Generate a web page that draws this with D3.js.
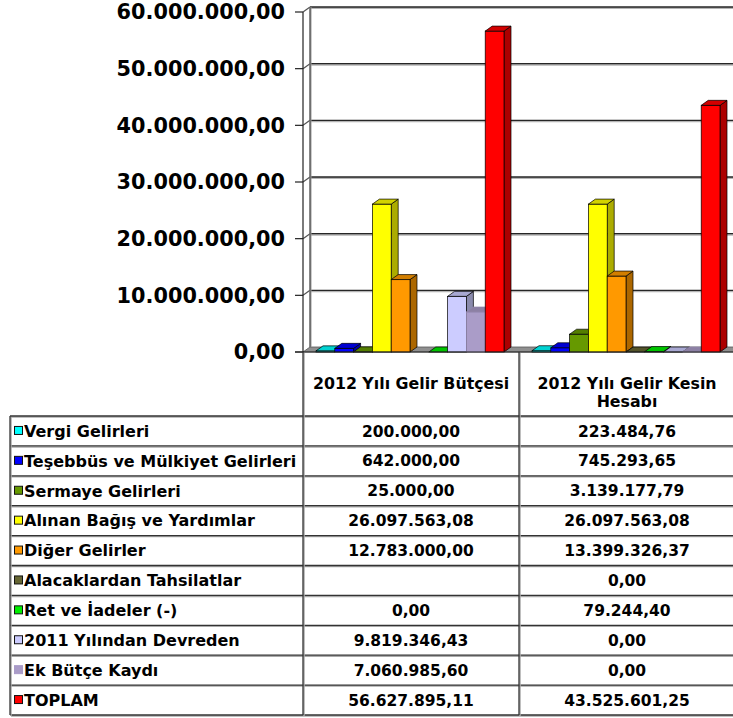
<!DOCTYPE html>
<html>
<head>
<meta charset="utf-8">
<script src="https://cdn.jsdelivr.net/npm/d3@7"></script>
<style>
body{margin:0;background:#fff;}
svg{display:block;}
text{font-family:"DejaVu Sans",Verdana,sans-serif;font-weight:bold;fill:#000;}
</style>
</head>
<body>
<svg id="chart" width="733" height="718"></svg>
<script>
// chart data
var categories = ["2012 Yılı Gelir Bütçesi", "2012 Yılı Gelir Kesin Hesabı"];

var seriesNames = [
    "Vergi Gelirleri",
    "Teşebbüs ve Mülkiyet Gelirleri",
    "Sermaye Gelirleri",
    "Alınan Bağış ve Yardımlar",
    "Diğer Gelirler",
    "Alacaklardan Tahsilatlar",
    "Ret ve İadeler (-)",
    "2011 Yılından Devreden",
    "Ek Bütçe Kaydı",
    "TOPLAM"
];

var seriesColors = [
    "#00ffff", "#0000ff", "#669900", "#ffff00", "#ff9900",
    "#666633", "#00ee00", "#ccccff", "#aa9cc8", "#ff0000"
];

var budgetValues = [200000, 642000, 25000, 26097563.08, 12783000, null, 0, 9819346.43, 7060985.60, 56627895.11];
var finalValues = [223484.76, 745293.65, 3139177.79, 26097563.08, 13399326.37, 0, 79244.40, 0, 0, 43525601.25];

var yTicks = [0, 10000000, 20000000, 30000000, 40000000, 50000000, 60000000];

var valuesByCategory = [budgetValues, finalValues];

// turkish number format 1.234,56
var trLocale = d3.formatLocale({decimal: ",", thousands: ".", grouping: [3], currency: ["", ""]});
var fmt = trLocale.format(",.2f");

var svg = d3.select("#chart");
var W = 733;

// 3d depth offset
var dx = 7, dy = -5;
var plotLeft = 303, zeroY = 352, topY = 12;

var x0 = d3.scaleBand().domain(categories).range([plotLeft, plotLeft + 432]);
var x1 = d3.scaleBand().domain(seriesNames).range([13, 201]);
var y = d3.scaleLinear().domain([0, 60000000]).range([zeroY, topY]);

svg.append("rect").attr("width", W).attr("height", 718).attr("fill", "#fff");

var chart = svg.append("g");

// floor
chart.append("polygon")
    .attr("points", [[plotLeft, zeroY], [plotLeft + dx, zeroY + dy], [W + 10, zeroY + dy], [W + 10, zeroY]].join(" "))
    .attr("fill", "#8f8f8f")
    .attr("stroke", "#555")
    .attr("stroke-width", 0.8);

// back wall + side wall gridlines
var grid = chart.append("g");
yTicks.forEach(function(t){
    if(t == 0) return;
    var yy = y(t);
    grid.append("line")
        .attr("x1", plotLeft + dx).attr("x2", W + 10)
        .attr("y1", yy + dy + 1).attr("y2", yy + dy + 1)
        .attr("stroke", "#b5b5b5").attr("stroke-width", 2);
    grid.append("line")
        .attr("x1", plotLeft + dx).attr("x2", W + 10)
        .attr("y1", yy + dy).attr("y2", yy + dy)
        .attr("stroke", "#262626").attr("stroke-width", 1.3);
    grid.append("line")
        .attr("x1", plotLeft).attr("x2", plotLeft + dx)
        .attr("y1", yy).attr("y2", yy + dy)
        .attr("stroke", "#555").attr("stroke-width", 1.2);
});
// back wall left edge
grid.append("line")
    .attr("x1", plotLeft + dx + 0.5).attr("x2", plotLeft + dx + 0.5)
    .attr("y1", y(60000000) + dy).attr("y2", zeroY + dy)
    .attr("stroke", "#9a9a9a").attr("stroke-width", 2);
grid.append("line")
    .attr("x1", plotLeft + dx).attr("x2", plotLeft + dx)
    .attr("y1", y(60000000) + dy).attr("y2", zeroY + dy)
    .attr("stroke", "#444").attr("stroke-width", 1);

// bars, drawn left to right so each one hides the side of the previous
categories.forEach(function(cat, ci){
    var vals = valuesByCategory[ci];
    var g = chart.append("g");
    seriesNames.forEach(function(name, si){
        var v = vals[si];
        if(v === null) return;
        var c = seriesColors[si];
        var xl = x0(cat) + x1(name), w = x1.bandwidth(), yt = y(v);
        var stroke = si == 8 ? d3.color(c).darker(0.4) : "#000";
        if(v > 0){
            g.append("polygon")
                .attr("points", [[xl + w, yt], [xl + w + dx, yt + dy], [xl + w + dx, zeroY + dy], [xl + w, zeroY]].join(" "))
                .attr("fill", d3.color(c).darker(1.1))
                .attr("stroke", stroke).attr("stroke-width", 0.7);
            g.append("rect")
                .attr("x", xl).attr("y", yt)
                .attr("width", w).attr("height", zeroY - yt)
                .attr("fill", c)
                .attr("stroke", stroke).attr("stroke-width", 0.7);
        }
        g.append("polygon")
            .attr("points", [[xl, yt], [xl + dx, yt + dy], [xl + w + dx, yt + dy], [xl + w, yt]].join(" "))
            .attr("fill", d3.color(c).darker(0.55))
            .attr("stroke", stroke).attr("stroke-width", 0.7);
    });
});

// value axis
chart.append("line")
    .attr("x1", plotLeft).attr("x2", plotLeft)
    .attr("y1", y(60000000)).attr("y2", zeroY)
    .attr("stroke", "#222").attr("stroke-width", 1.2);
chart.append("line")
    .attr("x1", plotLeft - 8).attr("x2", W + 10)
    .attr("y1", zeroY).attr("y2", zeroY)
    .attr("stroke", "#222").attr("stroke-width", 1.2);
var yAxis = chart.append("g");
yTicks.forEach(function(t){
    yAxis.append("line")
        .attr("x1", plotLeft - 8).attr("x2", plotLeft)
        .attr("y1", y(t)).attr("y2", y(t))
        .attr("stroke", "#222").attr("stroke-width", 1.2);
    yAxis.append("text")
        .attr("x", 285).attr("y", y(t))
        .attr("dy", "0.36em")
        .attr("text-anchor", "end")
        .attr("font-size", 20.8)
        .text(fmt(t));
});

// data table
var table = svg.append("g");
var tableTop = 416, rowH = 29.9, tableLeft = 10;
var nRows = seriesNames.length;
var tableBottom = tableTop + nRows * rowH;

function tline(x1p, y1p, x2p, y2p){
    table.append("line")
        .attr("x1", x1p + 1).attr("x2", x2p + 1).attr("y1", y1p + 1).attr("y2", y2p + 1)
        .attr("stroke", "#aaa").attr("stroke-width", 1.5);
    table.append("line")
        .attr("x1", x1p).attr("x2", x2p).attr("y1", y1p).attr("y2", y2p)
        .attr("stroke", "#333").attr("stroke-width", 1.3);
}

for(var r = 0; r <= nRows; r++){
    tline(tableLeft, tableTop + r * rowH, W + 10, tableTop + r * rowH);
}
tline(tableLeft, tableTop, tableLeft, tableBottom);
categories.forEach(function(cat){
    tline(x0(cat), zeroY, x0(cat), tableBottom);
});

// category headers, wrapped to the column
categories.forEach(function(cat){
    var cx = x0(cat) + x0.bandwidth() / 2;
    var words = cat.split(" ");
    var lines = [], line = [];
    var probe = table.append("text").attr("font-size", 15.8);
    words.forEach(function(wd){
        line.push(wd);
        probe.text(line.join(" "));
        if(probe.node().getComputedTextLength() > 208 && line.length > 1){
            line.pop();
            lines.push(line.join(" "));
            line = [wd];
        }
    });
    lines.push(line.join(" "));
    probe.remove();
    lines.forEach(function(l, li){
        table.append("text")
            .attr("x", cx).attr("y", 383 + li * 18)
            .attr("dy", "0.36em")
            .attr("text-anchor", "middle")
            .attr("font-size", 15.8)
            .text(l);
    });
});

// rows
seriesNames.forEach(function(name, si){
    var cy = tableTop + si * rowH + rowH / 2;
    table.append("rect")
        .attr("x", 14.5).attr("y", cy - 4.5)
        .attr("width", 8).attr("height", 8)
        .attr("fill", seriesColors[si])
        .attr("stroke", si == 8 ? seriesColors[si] : "#111")
        .attr("stroke-width", 1);
    table.append("text")
        .attr("x", 24).attr("y", cy)
        .attr("dy", "0.36em")
        .attr("font-size", 16)
        .text(name);
    categories.forEach(function(cat, ci){
        var v = valuesByCategory[ci][si];
        if(v === null) return;
        table.append("text")
            .attr("x", x0(cat) + x0.bandwidth() / 2).attr("y", cy)
            .attr("dy", "0.36em")
            .attr("text-anchor", "middle")
            .attr("font-size", 15.5)
            .text(fmt(v));
    });
});
</script>
</body>
</html>
